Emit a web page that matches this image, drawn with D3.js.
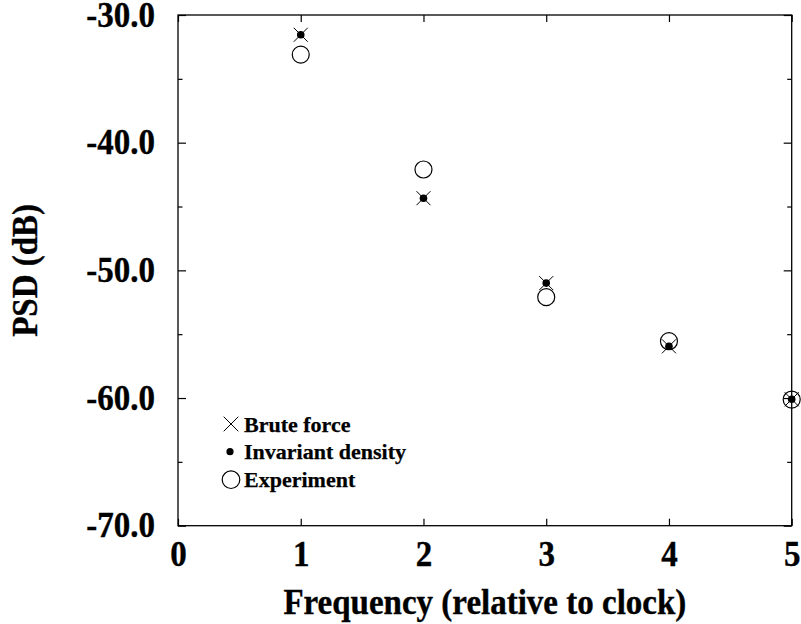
<!DOCTYPE html>
<html>
<head>
<meta charset="utf-8">
<script src="https://cdn.jsdelivr.net/npm/d3@7"></script>
<style>
  html, body { margin: 0; padding: 0; background: #fff; }
  svg { display: block; }
  text { font-family: "Liberation Serif", "Times New Roman", serif; font-weight: bold; fill: #000; }
</style>
</head>
<body>
<svg id="chart" width="801" height="624"></svg>
<script>
// ---- data ----
const frequency = [1, 2, 3, 4, 5];
const bruteForce = [-31.55, -44.35, -51.0, -55.95, -60.1];
const invariantDensity = [-31.55, -44.35, -51.0, -55.95, -60.1];
const experiment = [-33.1, -42.1, -52.1, -55.55, -60.12];
const seriesNames = ["Brute force", "Invariant density", "Experiment"];
const xTicks = [0, 1, 2, 3, 4, 5];
const yMajorTicks = [-70, -60, -50, -40, -30];
const yMinorTicks = [-65, -55, -45, -35];
const xTitle = "Frequency (relative to clock)";
const yTitle = "PSD (dB)";

// ---- layout ----
const svg = d3.select("#chart");
const plotL = 178, plotT = 15, plotR = 791.7, plotB = 525.7;
const stretch = 1.06;

const x = d3.scaleLinear().domain([0, 5]).range([plotL, plotR]);
const y = d3.scaleLinear().domain([-70, -30]).range([plotB, plotT]);

// frame
svg.append("rect")
  .attr("x", plotL).attr("y", plotT)
  .attr("width", plotR - plotL).attr("height", plotB - plotT)
  .attr("fill", "none").attr("stroke", "#000").attr("stroke-width", 1.3);

function styleAxis(g) {
  g.select(".domain").remove();
  g.selectAll(".tick line").attr("stroke", "#000").attr("stroke-width", 1.2);
  g.selectAll("text").each(function () {
    const t = d3.select(this);
    const tx = +t.attr("x") || 0, ty = +t.attr("y") || 0;
    t.attr("x", null).attr("y", null)
     .attr("transform", `translate(${tx},${ty}) scale(1,${stretch})`)
     .attr("font-size", 33).attr("font-family", null)
     .attr("stroke", "#000").attr("stroke-width", 0.35);
  });
}

// left axis (major with labels)
svg.append("g").attr("transform", `translate(${plotL},0)`)
  .call(d3.axisLeft(y).tickValues(yMajorTicks).tickSizeInner(-8).tickSizeOuter(0)
    .tickPadding(23).tickFormat(d => d.toFixed(1)))
  .call(styleAxis);
// left minor
svg.append("g").attr("transform", `translate(${plotL},0)`)
  .call(d3.axisLeft(y).tickValues(yMinorTicks).tickSizeInner(-4.5).tickSizeOuter(0).tickFormat(""))
  .call(styleAxis);
// right axis
svg.append("g").attr("transform", `translate(${plotR},0)`)
  .call(d3.axisRight(y).tickValues(yMajorTicks).tickSizeInner(-8).tickSizeOuter(0).tickFormat(""))
  .call(styleAxis);
svg.append("g").attr("transform", `translate(${plotR},0)`)
  .call(d3.axisRight(y).tickValues(yMinorTicks).tickSizeInner(-4.5).tickSizeOuter(0).tickFormat(""))
  .call(styleAxis);
// bottom axis
svg.append("g").attr("transform", `translate(0,${plotB})`)
  .call(d3.axisBottom(x).tickValues(xTicks).tickSizeInner(-7).tickSizeOuter(0)
    .tickPadding(15).tickFormat(d3.format("d")))
  .call(styleAxis);
// top axis
svg.append("g").attr("transform", `translate(0,${plotT})`)
  .call(d3.axisTop(x).tickValues(xTicks).tickSizeInner(-7).tickSizeOuter(0).tickFormat(""))
  .call(styleAxis);

// axis titles
svg.append("text")
  .attr("transform", `translate(${(plotL + plotR) / 2},614) scale(1,${stretch})`)
  .attr("text-anchor", "middle").attr("font-size", 33)
  .attr("stroke", "#000").attr("stroke-width", 0.35)
  .text(xTitle);
svg.append("text")
  .attr("transform", `translate(37,${(plotT + plotB) / 2}) rotate(-90) scale(1,${stretch})`)
  .attr("text-anchor", "middle").attr("font-size", 33)
  .attr("stroke", "#000").attr("stroke-width", 0.35)
  .text(yTitle);

// ---- markers ----
function drawCross(g, cx, cy, s) {
  g.append("path")
    .attr("d", `M${cx - s},${cy - s}L${cx + s},${cy + s}M${cx - s},${cy + s}L${cx + s},${cy - s}`)
    .attr("stroke", "#000").attr("stroke-width", 1).attr("fill", "none");
}
function drawCircle(g, cx, cy, r) {
  g.append("circle").attr("cx", cx).attr("cy", cy).attr("r", r)
    .attr("fill", "none").attr("stroke", "#000").attr("stroke-width", 1.2);
}
function drawDot(g, cx, cy, r) {
  g.append("circle").attr("cx", cx).attr("cy", cy).attr("r", r).attr("fill", "#000");
}

const marks = svg.append("g");
frequency.forEach((f, i) => drawCircle(marks, x(f), y(experiment[i]), 8.5));
frequency.forEach((f, i) => drawCross(marks, x(f), y(bruteForce[i]), 7));
frequency.forEach((f, i) => drawDot(marks, x(f), y(invariantDensity[i]), 3.8));

// ---- legend ----
const legend = svg.append("g");
const legendRowY = [424, 451.7, 479.7];
const legendX = 231;
drawCross(legend, legendX, legendRowY[0], 7.3);
drawDot(legend, legendX - 1, legendRowY[1], 3.6);
drawCircle(legend, legendX, legendRowY[2], 8.8);
seriesNames.forEach((name, i) => {
  legend.append("text")
    .attr("x", 244).attr("y", legendRowY[i] + 7.5)
    .attr("font-size", 22)
    .attr("stroke", "#000").attr("stroke-width", 0.25)
    .text(name);
});
</script>
</body>
</html>
